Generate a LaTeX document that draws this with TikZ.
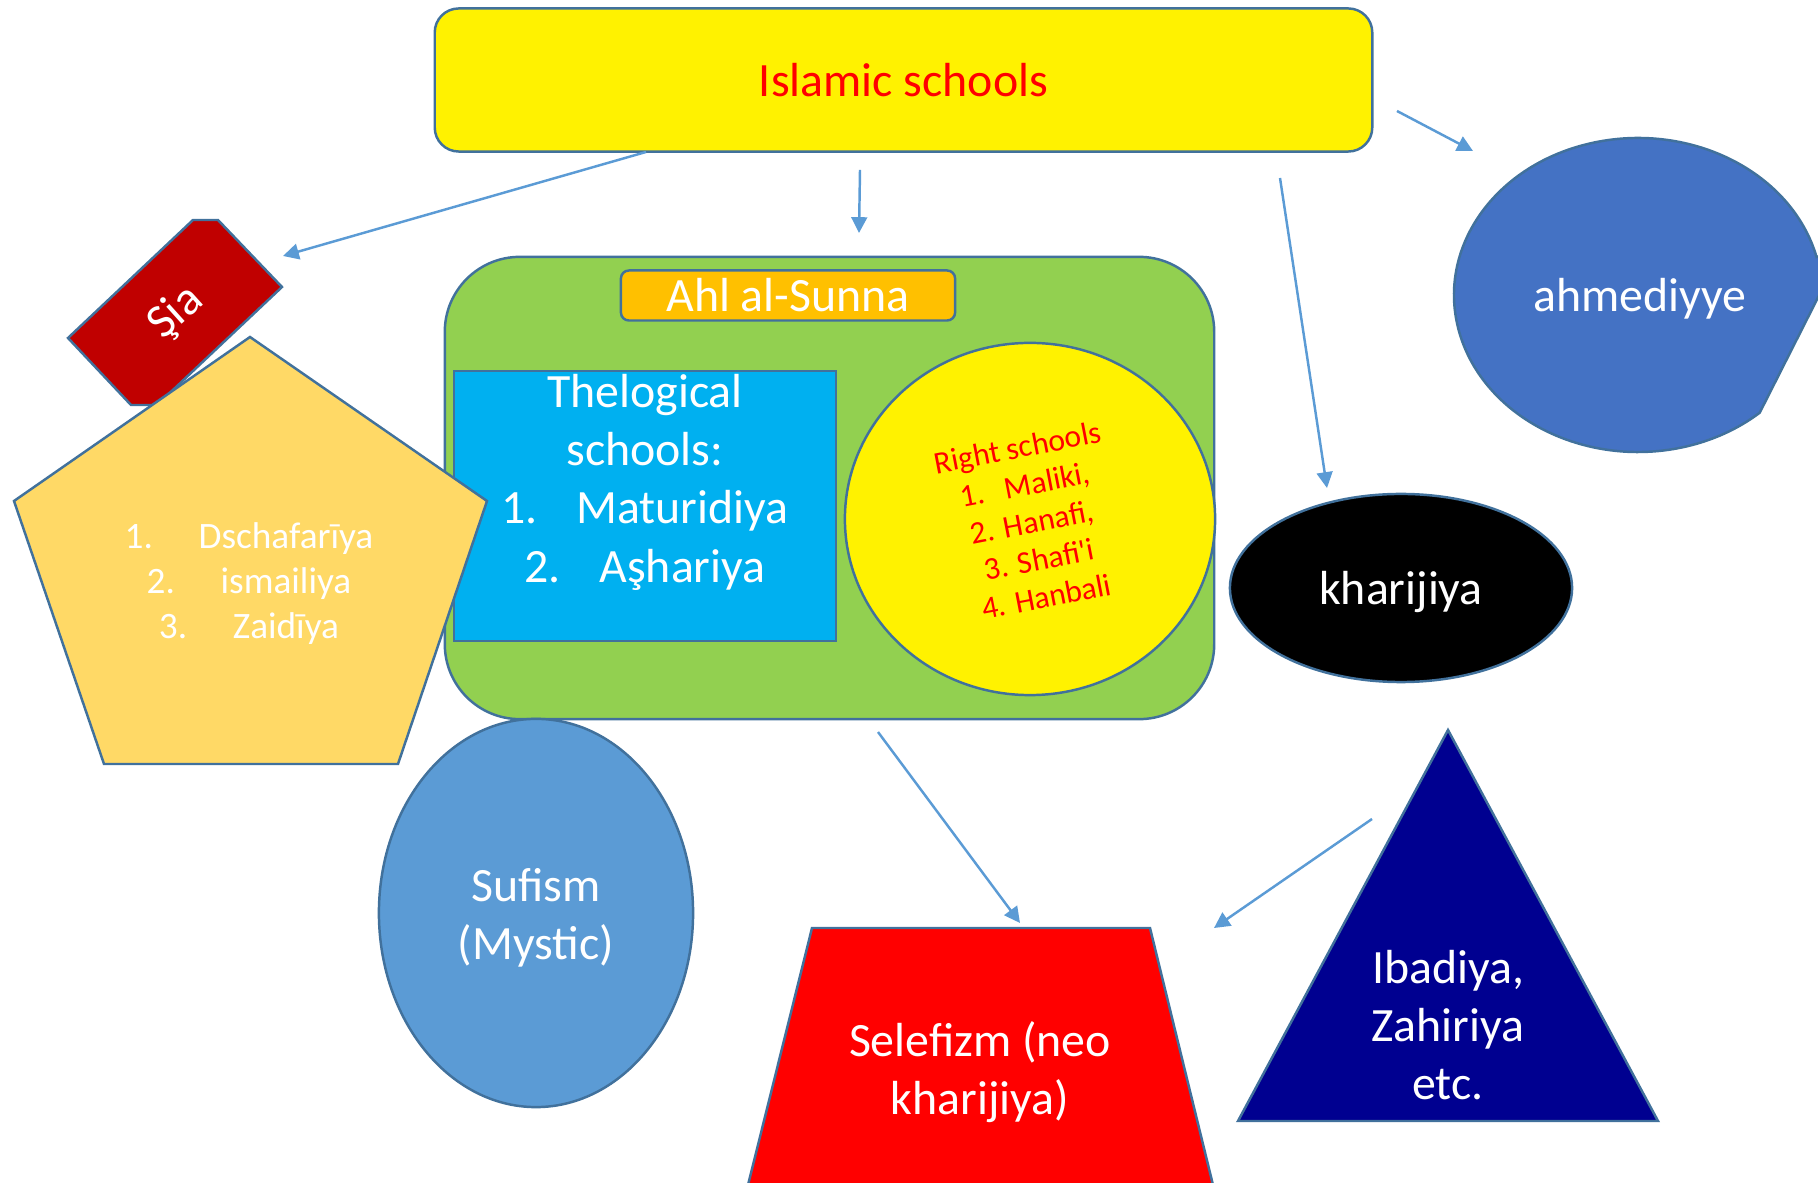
\documentclass[tikz,border=0pt]{standalone}
\usepackage{fontspec}
\setmainfont{Carlito}
\usepackage{tikz}
\usetikzlibrary{calc,arrows.meta,shapes.geometric}

\definecolor{edgeblue}{HTML}{41719C}
\definecolor{arrowblue}{HTML}{5B9BD5}
\definecolor{sunnagreen}{HTML}{92D050}
\definecolor{sunnaorange}{HTML}{FFC000}
\definecolor{theocyan}{HTML}{00B0F0}
\definecolor{siared}{HTML}{C00000}
\definecolor{shiayellow}{HTML}{FFD966}
\definecolor{ahmedblue}{HTML}{4472C4}
\definecolor{sufiblue}{HTML}{5B9BD5}
\definecolor{ibadinavy}{HTML}{000090}

\tikzset{
  outl/.style={draw=edgeblue, line width=0.7pt},
  bigtext/.style={font=\fontsize{13.6}{16.6}\selectfont, text=white, align=center},
  conn/.style={arrowblue, line width=0.7pt, -{Triangle[length=4.5pt,width=4.5pt]}}
}

\begin{document}
\begin{tikzpicture}[x=0.01cm,y=-0.01cm]
  \useasboundingbox (0,0) rectangle (1818,1183);

  % top box
  \node[outl,fill=yellow,rounded corners=0.24cm,minimum width=9.37cm,minimum height=1.43cm,
        font=\fontsize{13.6}{16.6}\selectfont,text=red] (isl) at (903.5,80) {Islamic schools};

  % ahl al-sunna
  \node[outl,fill=sunnagreen,rounded corners=0.75cm,minimum width=7.69cm,minimum height=4.62cm] (sunna) at (829.5,488) {};
  \node[outl,fill=sunnaorange,rounded corners=0.08cm,minimum width=3.34cm,minimum height=0.5cm,bigtext,inner sep=0pt] (ahl) at (788,295.5) {Ahl al-Sunna};
  \node[outl,fill=theocyan,minimum width=3.82cm,minimum height=2.70cm] (theo) at (645,506) {};
  \node[bigtext] (theotext) at (645,482) {Thelogical\\schools:\\1.\hspace{11pt}Maturidiya\\2.\hspace{11pt}Aşhariya};
  \node[outl,fill=yellow,ellipse,minimum width=3.70cm,minimum height=3.52cm] (right) at (1030,519) {};
  \node[text=red,align=center,rotate=11,font=\fontsize{9}{10.8}\selectfont] (righttext) at (1032,522)
    {Right schools\\1.\hspace{6pt}Maliki,\\2. Hanafi,\\3. Shafi\textquotesingle i\\4. Hanbali};

  % shia
  \draw[outl,fill=siared] (193,220) -- (218,220) -- (282,287) -- (157,405) -- (131,405) -- (68,338) -- cycle;
  \node[bigtext,rotate=42] (sia) at (176,313) {Şia};
  \draw[outl,fill=shiayellow] (250,337) -- (487,501) -- (398,764) -- (104,764) -- (14,501) -- cycle;
  \node[align=center,text=white,font=\fontsize{10.6}{12.8}\selectfont] (shia) at (249,583.5)
    {1.\hspace{13pt}Dschafarīya\\2.\hspace{13pt}ismailiya\\3.\hspace{13pt}Zaidīya};

  % right side
  \draw[outl,fill=ahmedblue] (1842,250) -- ($(1638,295)+(-14:184 and 157)$)
    arc[start angle=-14,end angle=-311.4,x radius=184,y radius=157] -- cycle;
  \node[bigtext] (ahmed) at (1640,299) {ahmediyye};
  \node[outl,fill=black,ellipse,minimum width=3.42cm,minimum height=1.88cm] (khar) at (1401,588) {};
  \node[bigtext] (khartext) at (1401,592.5) {kharijiya};

  % bottom
  \node[outl,fill=sufiblue,ellipse,minimum width=3.14cm,minimum height=3.88cm] (sufi) at (536,913) {};
  \node[bigtext] (sufitext) at (536,918) {Sufism\\(Mystic)};
  \draw[outl,fill=red] (812,928) -- (1150,928) -- (1213,1185) -- (748,1185) -- cycle;
  \node[bigtext] (selef) at (980,1072) {Selefizm (neo\\kharijiya)};
  \draw[outl,fill=ibadinavy] (1448,730) -- (1658,1121) -- (1238,1121) -- cycle;
  \node[bigtext] (ibadi) at (1448,1025) {Ibadiya,\\Zahiriya\\etc.};

  % arrows
  \coordinate (islA) at (646,152);
  \coordinate (siaTip) at (283,256);
  \coordinate (islB) at (860,170);
  \coordinate (sunnaTip) at (859,233);
  \coordinate (islC) at (1280,178);
  \coordinate (kharTip) at (1327,488);
  \coordinate (islD) at (1397,111);
  \coordinate (ahmedTip) at (1473,151);
  \coordinate (sunnaA) at (878,732);
  \coordinate (selefTip) at (1020,923);
  \coordinate (ibadiA) at (1372,819);
  \coordinate (selefTipB) at (1214,928);
  \draw[conn] (islA) -- (siaTip);
  \draw[conn] (islB) -- (sunnaTip);
  \draw[conn] (islC) -- (kharTip);
  \draw[conn] (islD) -- (ahmedTip);
  \draw[conn] (sunnaA) -- (selefTip);
  \draw[conn] (ibadiA) -- (selefTipB);
\end{tikzpicture}
\end{document}
